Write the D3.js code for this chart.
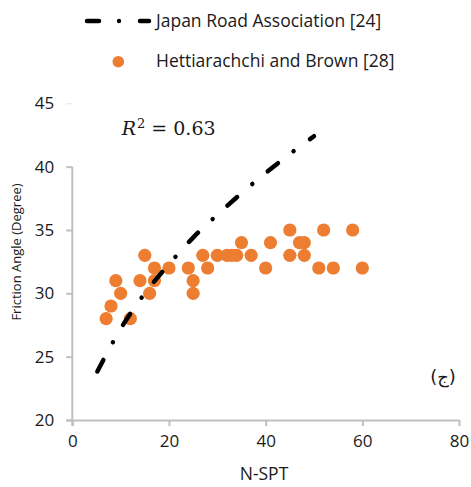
<!DOCTYPE html>
<html>
<head>
<meta charset="utf-8">
<script src="https://cdn.jsdelivr.net/npm/d3@7/dist/d3.min.js"></script>
<style>
  html, body { margin: 0; padding: 0; background: #fff; }
  svg { display: block; }
</style>
</head>
<body>
<svg id="chart" width="471" height="487"></svg>
<script>
// N-SPT vs friction angle observations (Hettiarachchi and Brown)
const nspt = [7, 8, 9, 10, 12, 14, 15, 16, 17, 17, 20, 24, 25, 25, 27, 28, 30, 32, 33, 34,
              35, 37, 40, 41, 45, 45, 47, 48, 48, 51, 52, 54, 58, 60];
const phi  = [28, 29, 31, 30, 28, 31, 33, 30, 32, 31, 32, 32, 31, 30, 33, 32, 33, 33, 33, 33,
              34, 33, 32, 34, 35, 33, 34, 34, 33, 32, 35, 32, 35, 32];

// Japan Road Association correlation curve
const jraN   = [5, 10, 15, 20, 25, 30, 35, 40, 45, 50];
const jraPhi = [23.7, 27.2, 30.0, 32.3, 34.4, 36.2, 37.9, 39.5, 41.0, 42.4];

const xTicks = [0, 20, 40, 60, 80];
const yTicks = [20, 25, 30, 35, 40, 45];

const legendLabels = ["Japan Road Association [24]", "Hettiarachchi and Brown [28]"];
const rSquared = "0.63";

const orange = "#ED7D31";
const axisGray = "#bfbfbf";
const font = "'Open Sans', sans-serif";

const svg = d3.select("#chart");

const x = d3.scaleLinear().domain([0, 80]).range([72.3, 459]);
const y = d3.scaleLinear().domain([20, 45]).range([420, 103.3]);

// x axis
const xAxis = svg.append("g")
  .attr("transform", `translate(0,${y(20)})`)
  .call(d3.axisBottom(x).tickValues(xTicks).tickSize(6).tickPadding(9).tickFormat(d3.format("d")));
xAxis.select(".domain").attr("stroke", axisGray).attr("stroke-width", 2)
  .attr("d", `M${x(0) - 6},0.5H${x(80)}`);
xAxis.selectAll(".tick line").attr("stroke", axisGray).attr("stroke-width", 2);
xAxis.selectAll(".tick text").attr("font-family", font).attr("font-size", 17).attr("fill", "#1a1a1a");

// y axis (line drawn only over the 20–40 span)
const yAxis = svg.append("g")
  .attr("transform", `translate(${x(0)},0)`)
  .call(d3.axisLeft(y).tickValues(yTicks).tickSize(6).tickPadding(12).tickFormat(d3.format("d")));
yAxis.select(".domain").attr("stroke", axisGray).attr("stroke-width", 2)
  .attr("d", `M0,${y(40)}V${y(20) + 6}`);
yAxis.selectAll(".tick line")
  .attr("stroke", d => d === 45 ? "#e6e6e6" : axisGray)
  .attr("stroke-width", d => d === 45 ? 1 : 2);
yAxis.selectAll(".tick text").attr("font-family", font).attr("font-size", 17).attr("fill", "#1a1a1a");

// axis titles
svg.append("text")
  .attr("x", 264).attr("y", 480)
  .attr("text-anchor", "middle")
  .attr("font-family", font).attr("font-size", 17.5).attr("fill", "#1a1a1a")
  .text("N-SPT");

svg.append("text")
  .attr("transform", "translate(21,252) rotate(-90)")
  .attr("text-anchor", "middle")
  .attr("font-family", font).attr("font-size", 13).attr("fill", "#1a1a1a")
  .text("Friction Angle (Degree)");

// scatter points
svg.append("g").selectAll("circle")
  .data(nspt.map((n, i) => [n, phi[i]]))
  .join("circle")
  .attr("cx", d => x(d[0]))
  .attr("cy", d => y(d[1]))
  .attr("r", 6.6)
  .attr("fill", orange);

// correlation curve, dash-dot
const line = d3.line()
  .x(d => x(d[0]))
  .y(d => y(d[1]))
  .curve(d3.curveCatmullRom);

svg.append("path")
  .datum(jraN.map((n, i) => [n, jraPhi[i]]))
  .attr("d", line)
  .attr("fill", "none")
  .attr("stroke", "#000")
  .attr("stroke-width", 4.5)
  .attr("stroke-linecap", "round")
  .attr("stroke-dasharray", "13,20,0.01,20")
  .attr("stroke-dashoffset", -2);

// legend
const legend = svg.append("g");
legend.append("line")
  .attr("x1", 87).attr("x2", 99).attr("y1", 21).attr("y2", 21)
  .attr("stroke", "#000").attr("stroke-width", 4.5).attr("stroke-linecap", "round");
legend.append("circle").attr("cx", 119).attr("cy", 21).attr("r", 2.2).attr("fill", "#000");
legend.append("line")
  .attr("x1", 140).attr("x2", 149).attr("y1", 21).attr("y2", 21)
  .attr("stroke", "#000").attr("stroke-width", 4.5).attr("stroke-linecap", "round");
legend.append("circle").attr("cx", 118.3).attr("cy", 61.7).attr("r", 5.8).attr("fill", orange);

legend.selectAll("text.lab")
  .data(legendLabels)
  .join("text")
  .attr("class", "lab")
  .attr("x", 156)
  .attr("y", (d, i) => 27 + i * 40)
  .attr("font-family", font).attr("font-size", 17.5).attr("fill", "#1a1a1a")
  .text(d => d);

// coefficient of determination
const r2 = svg.append("text")
  .attr("x", 121.7).attr("y", 135)
  .attr("font-family", "'DejaVu Serif', serif").attr("font-size", 19).attr("fill", "#1a1a1a");
r2.append("tspan").attr("font-style", "italic").text("R");
r2.append("tspan").attr("font-size", 13).attr("dy", -7).attr("dx", 1).text("2");
r2.append("tspan").attr("dy", 7).text(" = " + rSquared);

// panel letter
svg.append("text")
  .attr("x", 443).attr("y", 383)
  .attr("text-anchor", "middle")
  .attr("direction", "ltr")
  .attr("font-family", "'DejaVu Sans', sans-serif").attr("font-size", 18).attr("fill", "#1a1a1a")
  .text("(\u062C)");
</script>
</body>
</html>
